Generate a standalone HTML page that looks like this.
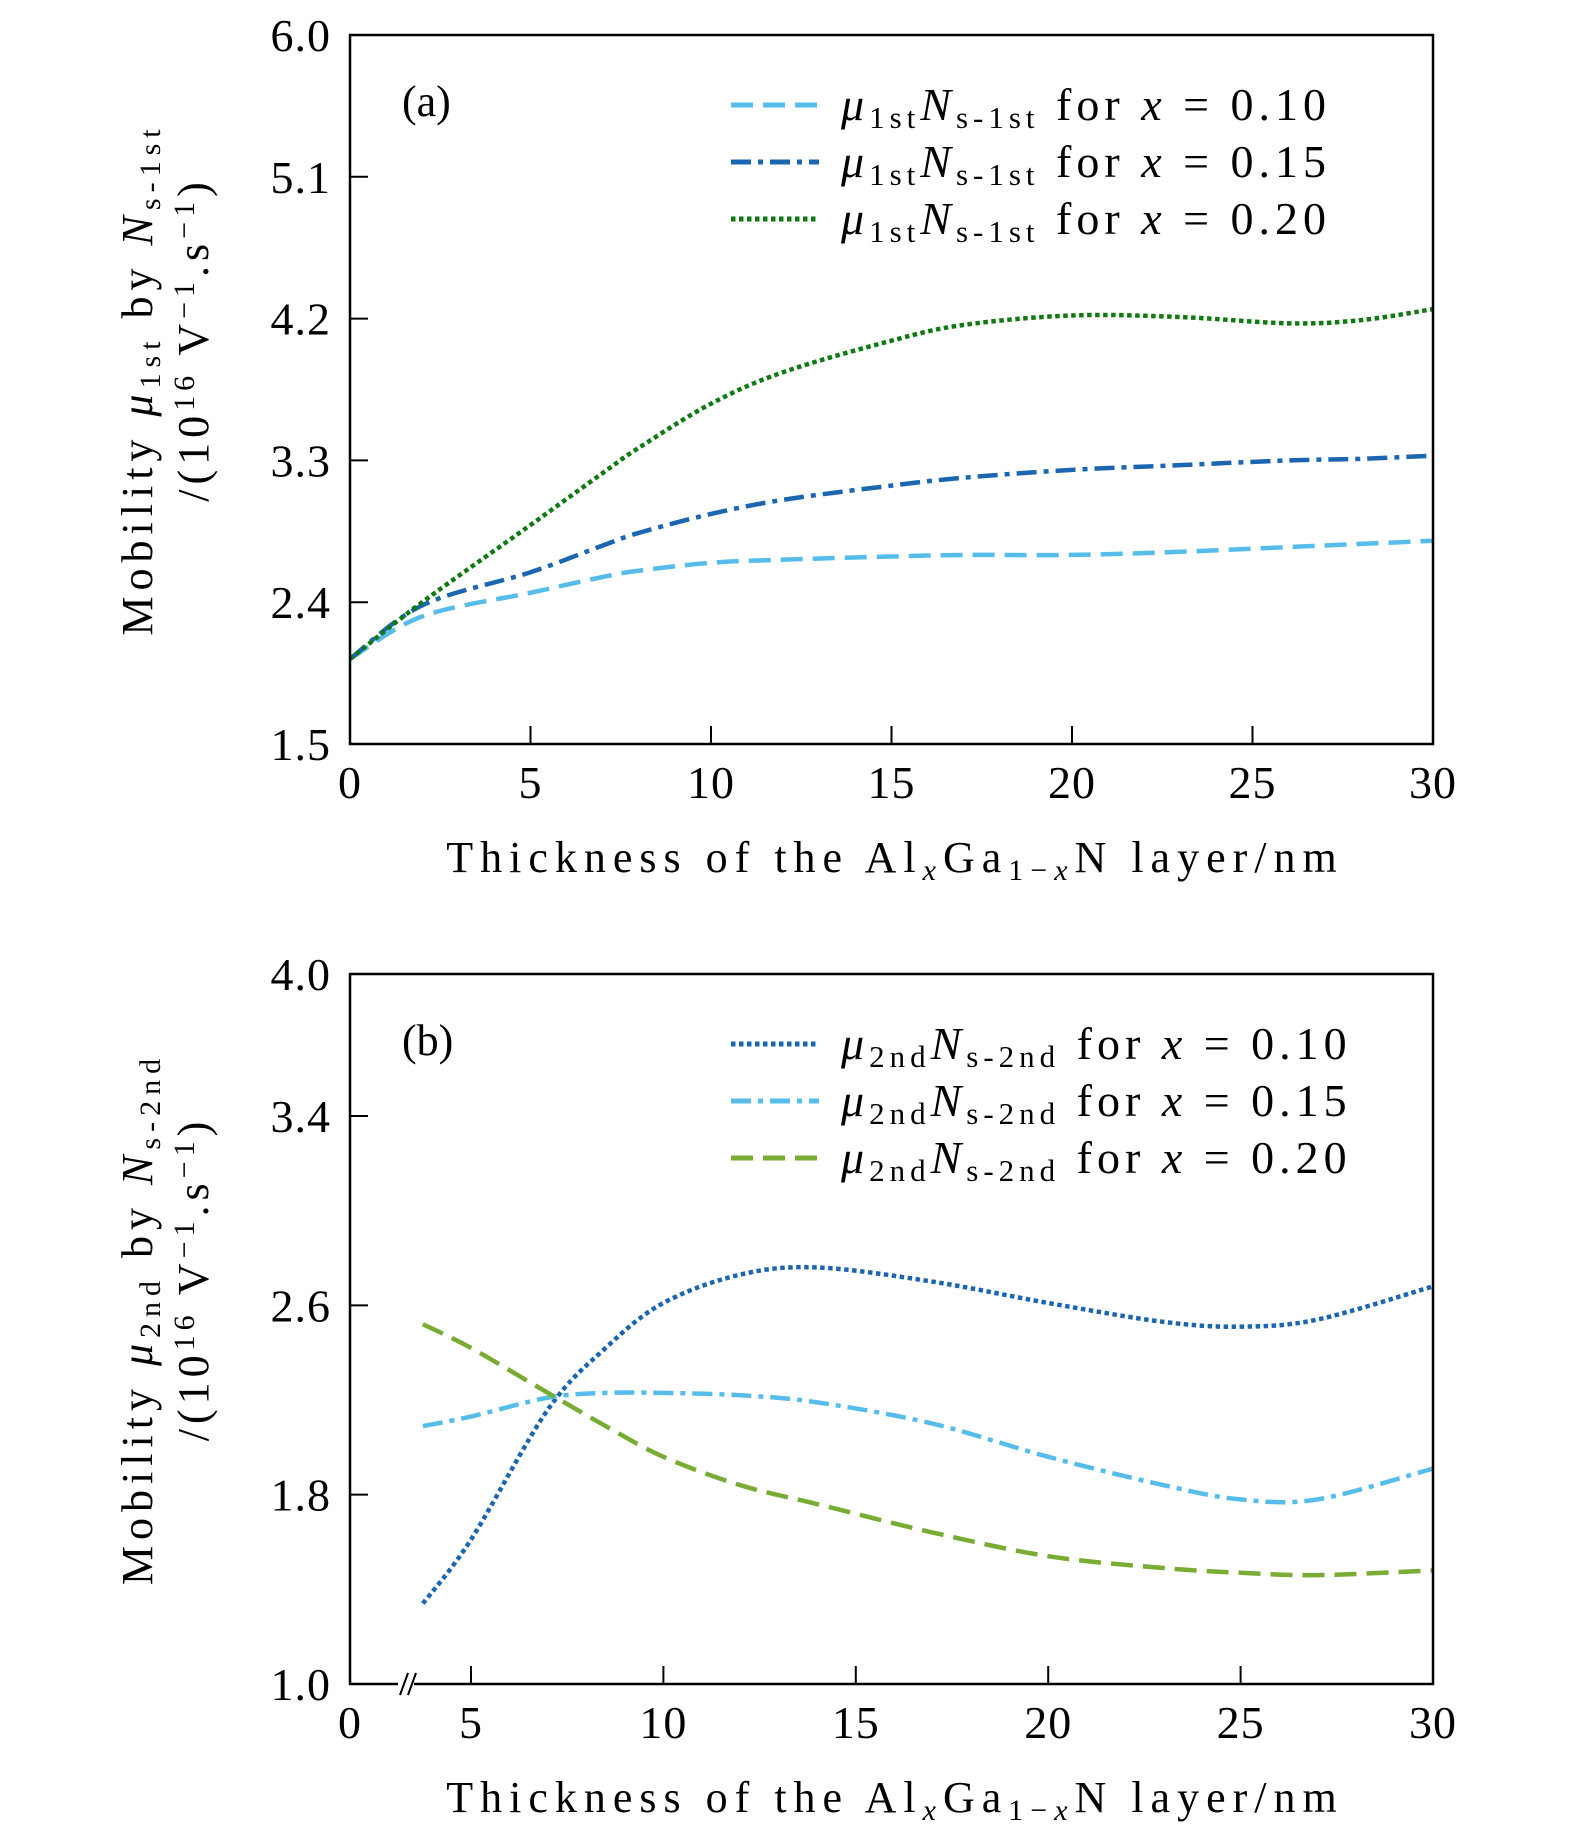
<!DOCTYPE html>
<html><head><meta charset="utf-8"><style>
html,body{margin:0;padding:0;background:#fff;}
svg{display:block;font-family:"Liberation Serif",serif;}
</style></head><body>
<svg id="chart" width="1575" height="1841" viewBox="0 0 1575 1841"></svg>
<script>
// Panel (a) data
const aX = [0,2,5,7,8,10,12,15,17,20,23,26,28,30];
const aX10 = [2.04,2.31,2.46,2.56,2.60,2.65,2.67,2.69,2.70,2.70,2.72,2.75,2.77,2.79];
const aX15 = [2.04,2.38,2.59,2.76,2.84,2.96,3.05,3.14,3.19,3.24,3.27,3.30,3.31,3.33];
const aX20 = [2.04,2.40,2.89,3.22,3.38,3.66,3.86,4.06,4.16,4.22,4.21,4.17,4.19,4.26];
const aYTicks = ["1.5","2.4","3.3","4.2","5.1","6.0"];
const aXTicks = [0,5,10,15,20,25,30];
// Panel (b) data
const bX = [3.75,5,7,8.5,10,12,14,17,20,23,25,27,30];
const bX10 = [1.34,1.61,2.16,2.42,2.61,2.73,2.76,2.70,2.61,2.53,2.51,2.54,2.68];
const bX15 = [2.09,2.13,2.21,2.23,2.23,2.22,2.19,2.10,1.96,1.84,1.78,1.78,1.91];
const bX20 = [2.52,2.42,2.23,2.09,1.96,1.84,1.76,1.64,1.54,1.49,1.47,1.46,1.48];
const bYTicks = ["1.0","1.8","2.6","3.4","4.0"];
const bXTicks = [0,5,10,15,20,25,30];

const NS="http://www.w3.org/2000/svg";
const svg=document.getElementById('chart');
function mk(tag,attrs,parent,text){const e=document.createElementNS(NS,tag);for(const k in attrs)e.setAttribute(k,attrs[k]);if(text!==undefined)e.textContent=text;(parent||svg).appendChild(e);return e;}
function smooth(pts){let d=`M${pts[0][0]},${pts[0][1]}`;for(let i=0;i<pts.length-1;i++){const p0=pts[i-1]||pts[i],p1=pts[i],p2=pts[i+1],p3=pts[i+2]||p2;const c1=[p1[0]+(p2[0]-p0[0])/6,p1[1]+(p2[1]-p0[1])/6],c2=[p2[0]-(p3[0]-p1[0])/6,p2[1]-(p3[1]-p1[1])/6];d+=`C${c1[0]},${c1[1]} ${c2[0]},${c2[1]} ${p2[0]},${p2[1]}`;}return d;}

const L=350,R=1433;
const axA=v=>L+(v-0)*(R-L)/30;
const ayA=v=>744-(v-1.5)*(744-35)/4.5;
const axB=v=>v<=0?L:471+(v-5)*(R-471)/25;
const ayB=v=>1684-(v-1.0)*(1684-974)/3.0;

const DASH="22 10", DASHDOT="20 7 5 7", DOT="4.5 3.5";

function panel(opts){
  const g=mk('g',{});
  
  
  opts.series.forEach(s=>{
    const pts=opts.xs.map((x,i)=>[opts.sx(x),opts.sy(s.vals[i])]);
    const p=mk('path',{d:smooth(pts),fill:'none',stroke:s.color,'stroke-width':4.5,'stroke-dasharray':s.dash},g);
    
    
  });
  const f=mk('rect',{x:L,y:opts.top,width:R-L,height:opts.bot-opts.top,fill:'none',stroke:'#000','stroke-width':2.5},g);
  
  
  opts.yTicks.forEach(t=>{
    const y=opts.sy(parseFloat(t));
    mk('line',{x1:L,x2:L+18,y1:y,y2:y,stroke:'#000','stroke-width':2},g);
    const tx=mk('text',{x:331,y:y+16,'text-anchor':'end','font-size':46,'letter-spacing':1},g,t);
    
    
  });
  opts.xTicks.forEach(t=>{
    const x=opts.sx(t);
    if(t!==0&&t!==30)mk('line',{x1:x,x2:x,y1:opts.bot,y2:opts.bot-18,stroke:'#000','stroke-width':2},g);
    const tx=mk('text',{x:x,y:opts.bot+54,'text-anchor':'middle','font-size':46,'letter-spacing':1},g,String(t));
    
    
  });
  if(opts.brk){
    mk('rect',{x:398,y:opts.bot-12,width:16,height:24,fill:'#fff'},g);
    mk('line',{x1:400,y1:opts.bot+11,x2:408,y2:opts.bot-11,stroke:'#000','stroke-width':2},g);
    mk('line',{x1:408,y1:opts.bot+11,x2:416,y2:opts.bot-11,stroke:'#000','stroke-width':2},g);
  }
  const pl=mk('text',{x:402,y:opts.top+81,'font-size':44},g,opts.label);
  
  
  opts.series.forEach((s,i)=>{
    const y=opts.top+70+i*57;
    const ln=mk('line',{x1:731,x2:819,y1:y,y2:y,stroke:s.color,'stroke-width':5,'stroke-dasharray':s.dash},g);
    
    
    const t=mk('text',{x:841,y:y+15,'font-size':46,'letter-spacing':5},g);
    
    
    t.innerHTML=`<tspan font-style="italic">μ</tspan><tspan font-size="31" dy="8">${opts.sub}</tspan><tspan font-style="italic" dy="-8">N</tspan><tspan font-size="31" dy="8">s-${opts.sub}</tspan><tspan dy="-8"> for </tspan><tspan font-style="italic">x</tspan><tspan> = ${s.lab}</tspan>`;
  });
  const yt=mk('text',{transform:`translate(152,${(opts.top+opts.bot)/2-10}) rotate(-90)`,'text-anchor':'middle','font-size':44,'letter-spacing':6},g);
  
  
  yt.innerHTML=`Mobility <tspan font-style="italic">μ</tspan><tspan font-size="30" dy="8">${opts.sub}</tspan><tspan dy="-8"> by </tspan><tspan font-style="italic">N</tspan><tspan font-size="30" dy="8">s-${opts.sub}</tspan>`;
  const yt2=mk('text',{transform:`translate(208,${(opts.top+opts.bot)/2-50}) rotate(-90)`,'text-anchor':'middle','font-size':44,'letter-spacing':5},g);
  
  
  yt2.innerHTML=`/(10<tspan font-size="30" dy="-14">16</tspan><tspan dy="14"> V</tspan><tspan font-size="30" dy="-14">−1</tspan><tspan dy="14">.s</tspan><tspan font-size="30" dy="-14">−1</tspan><tspan dy="14">)</tspan>`;
  const xt=mk('text',{x:895,y:opts.bot+128,'text-anchor':'middle','font-size':44,'letter-spacing':7},g);
  
  
  xt.innerHTML=`Thickness of the Al<tspan font-size="30" font-style="italic" dy="8">x</tspan><tspan dy="-8">Ga</tspan><tspan font-size="30" dy="8">1−<tspan font-style="italic">x</tspan></tspan><tspan dy="-8">N layer/nm</tspan>`;
}

panel({name:'panel-a',label:'(a)',sub:'1st',top:35,bot:744,sx:axA,sy:ayA,xs:aX,yTicks:aYTicks,xTicks:aXTicks,brk:false,
  series:[{id:'line-a-x010',vals:aX10,color:'#56bdea',dash:DASH,lab:'0.10'},
          {id:'line-a-x015',vals:aX15,color:'#1a66b0',dash:DASHDOT,lab:'0.15'},
          {id:'line-a-x020',vals:aX20,color:'#0f7a12',dash:DOT,lab:'0.20'}]});
panel({name:'panel-b',label:'(b)',sub:'2nd',top:974,bot:1684,sx:axB,sy:ayB,xs:bX,yTicks:bYTicks,xTicks:bXTicks,brk:true,
  series:[{id:'line-b-x010',vals:bX10,color:'#1a66b0',dash:DOT,lab:'0.10'},
          {id:'line-b-x015',vals:bX15,color:'#56bdea',dash:DASHDOT,lab:'0.15'},
          {id:'line-b-x020',vals:bX20,color:'#78ac33',dash:DASH,lab:'0.20'}]});
</script>
</body></html>
